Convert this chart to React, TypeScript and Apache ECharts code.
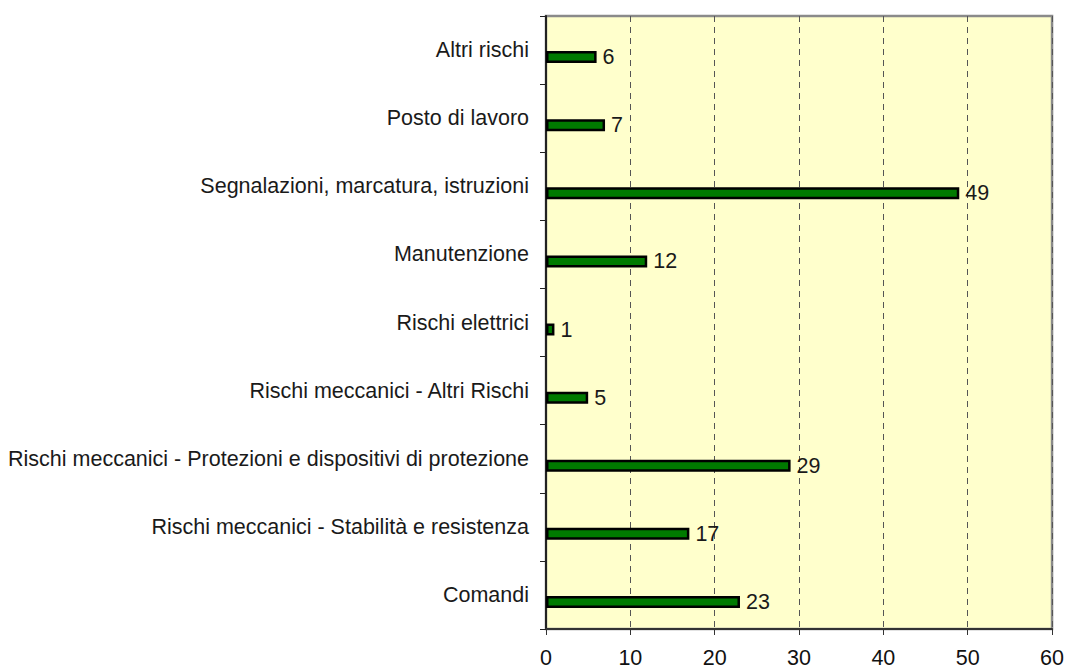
import React, { useEffect, useRef } from "react";
import * as echarts from "echarts";

const categories = [
  "Comandi",
  "Rischi meccanici - Stabilità e resistenza",
  "Rischi meccanici - Protezioni e dispositivi di protezione",
  "Rischi meccanici - Altri Rischi",
  "Rischi elettrici",
  "Manutenzione",
  "Segnalazioni, marcatura, istruzioni",
  "Posto di lavoro",
  "Altri rischi",
];
const values = [23, 17, 29, 5, 1, 12, 49, 7, 6];
const placeholder = categories.map(() => null);
const xMin = 0;
const xMax = 60;
const xInterval = 10;

const FONT = "'Liberation Sans', Arial, Helvetica, sans-serif";

export default function App() {
  const ref = useRef<HTMLDivElement>(null);
  useEffect(() => {
    if (!ref.current) return;
    document.body.style.margin = "0";
    document.body.style.overflow = "hidden";
    const chart = echarts.init(ref.current, null, { renderer: "svg" });
    chart.setOption({
      animation: false,
      backgroundColor: "#ffffff",
      grid: {
        left: 546,
        top: 16,
        right: 12,
        bottom: 39,
        containLabel: false,
        show: true,
        backgroundColor: "#ffffcc",
        borderColor: "#8a8a8a",
        borderWidth: 2.5,
      },
      xAxis: {
        type: "value",
        min: xMin,
        max: xMax,
        interval: xInterval,
        axisLine: { show: true, lineStyle: { color: "#333", width: 2 } },
        axisTick: { show: true, length: 6, lineStyle: { color: "#333", width: 1 } },
        axisLabel: {
          color: "#111",
          fontSize: 21.5,
          fontFamily: FONT,
          margin: 18,
          lineHeight: 22,
        },
        splitLine: {
          show: true,
          lineStyle: { color: "#555", type: [6, 5], width: 1 },
        },
      },
      yAxis: {
        type: "category",
        data: categories,
        axisLine: { show: true, lineStyle: { color: "#222", width: 2 } },
        axisTick: { show: true, length: 6, lineStyle: { color: "#222", width: 1 } },
        axisLabel: {
          color: "#1a1a1a",
          fontSize: 21.5,
          fontFamily: FONT,
          margin: 17,
          padding: [5, 0, 0, 0],
        },
        splitLine: { show: false },
      },
      series: [
        {
          type: "bar",
          data: placeholder,
          barWidth: 12,
          barGap: "17%",
          silent: true,
        },
        {
          type: "bar",
          data: values,
          barWidth: 12,
          barGap: "17%",
          itemStyle: { color: "#007a00", borderColor: "#000", borderWidth: 2.5 },
          label: {
            show: true,
            position: "right",
            distance: 6,
            color: "#1a1a1a",
            fontSize: 21.5,
            fontFamily: FONT,
            padding: [3, 0, 0, 0],
          },
        },
      ],
    });
    return () => chart.dispose();
  }, []);
  return (
    <div
      ref={ref}
      style={{ position: "fixed", left: 0, top: 0, width: 1067, height: 669 }}
    />
  );
}
